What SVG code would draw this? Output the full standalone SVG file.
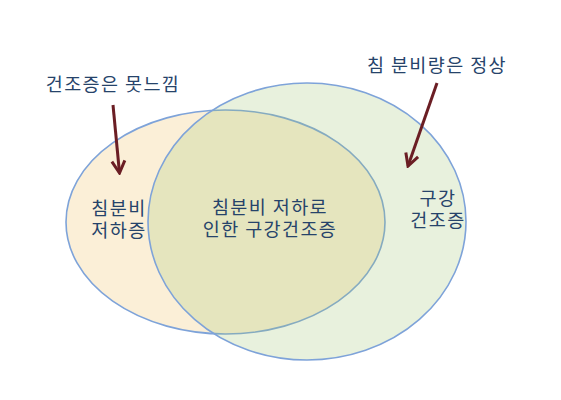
<svg xmlns="http://www.w3.org/2000/svg" width="561" height="400" viewBox="0 0 561 400">
<style>
.t{font-family:"Noto Sans CJK KR","Noto Sans",sans-serif;font-size:18.5px;letter-spacing:1.4px;fill:#26436A;text-anchor:middle}
.ell{stroke:#7EA3D9;stroke-width:1.6}
.arr{stroke:#6B1E24;stroke-width:3;fill:none;marker-end:url(#ah)}
</style>
<defs>
<marker id="ah" markerUnits="userSpaceOnUse" viewBox="-14 -9 16 18" markerWidth="16" markerHeight="18" refX="0" refY="0" orient="auto">
<path d="M-12,-6.5 L0,0 L-12,6.5" fill="none" stroke="#6B1E24" stroke-width="3" stroke-linejoin="miter"/>
</marker>
</defs>
<rect width="561" height="400" fill="#FFFFFF"/>
<g id="left-set">
<ellipse class="ell" cx="225.5" cy="222" rx="159.5" ry="112" fill="#FBEFD7"/>
</g>
<g id="right-set">
<ellipse class="ell" cx="307" cy="221.5" rx="159" ry="138.5" fill="rgb(159,197,113)" fill-opacity="0.24"/>
</g>
<g id="left-label">
<text class="t" x="119" y="215">침분비</text>
<text class="t" x="119" y="237">저하증</text>
</g>
<g id="center-label">
<text class="t" x="270" y="214">침분비 저하로</text>
<text class="t" x="270" y="236">인한 구강건조증</text>
</g>
<g id="right-label">
<text class="t" x="438" y="205">구강</text>
<text class="t" x="438" y="227">건조증</text>
</g>
<g id="note-left">
<text class="t" x="113" y="91">건조증은 못느낌</text>
</g>
<g id="note-right">
<text class="t" x="437" y="72">침 분비량은 정상</text>
</g>
<g id="connectors">
<line class="arr" x1="113" y1="105" x2="119.5" y2="173"/>
<line class="arr" x1="437" y1="83" x2="408" y2="166"/>
</g>
</svg>
